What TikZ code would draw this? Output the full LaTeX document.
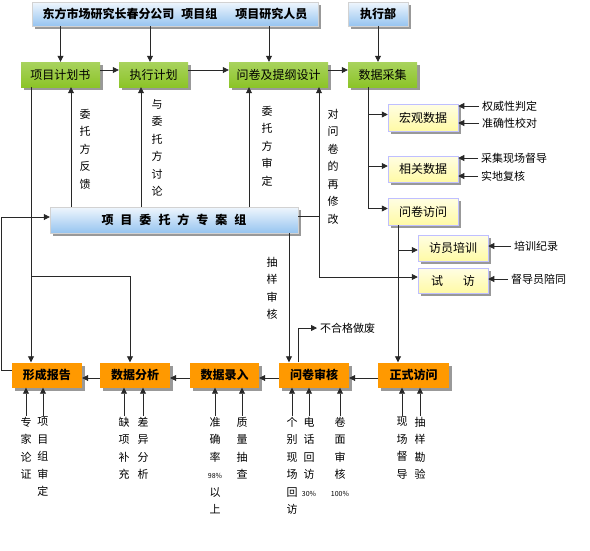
\documentclass[tikz,border=0pt]{standalone}
\usepackage{fontspec}
\setmainfont{Noto Sans CJK SC}
\usetikzlibrary{arrows.meta,shadows}
\definecolor{topblue}{RGB}{150,196,240}
\definecolor{boxgreen}{RGB}{140,196,40}
\definecolor{paleyellow}{RGB}{255,250,165}
\definecolor{boxorange}{RGB}{255,153,0}
\definecolor{linegray}{RGB}{40,40,40}
\begin{document}
\begin{tikzpicture}[x=1pt,y=-1pt,
  arr/.style={line width=0.8pt,draw=linegray,-{Triangle[length=6pt,width=6pt]}},
  ln/.style={line width=0.8pt,draw=linegray},
  basebox/.style={inner sep=0pt,font=\fontsize{12}{14}\selectfont,
    drop shadow={shadow xshift=3pt,shadow yshift=-3pt,fill=black!40,opacity=1}},
  bluebox/.style={basebox,top color=white!85!topblue,bottom color=topblue,
    draw=gray!35,line width=0.4pt,font=\fontsize{12}{14}\selectfont\bfseries},
  greenbox/.style={basebox,top color=boxgreen!75,middle color=white,bottom color=boxgreen},
  yellowbox/.style={basebox,top color=white!70!paleyellow,bottom color=paleyellow,
    draw=blue!25,line width=0.5pt},
  orangebox/.style={basebox,fill=boxorange,font=\fontsize{12}{14}\selectfont\bfseries},
  note/.style={inner sep=3pt,font=\fontsize{11}{13}\selectfont},
  vlabel/.style={inner sep=1pt,align=center,font=\fontsize{11}{17.5}\selectfont},
  pct/.style={}]
  \useasboundingbox (0,0) rectangle (590,550);

  % top row
  \node[bluebox,minimum width=286pt,minimum height=24pt] (top) at (175,14)
    {东方市场研究长春分公司\hspace{7pt}项目组\hspace{18pt}项目研究人员};
  \node[bluebox,minimum width=60pt,minimum height=24pt] (exe) at (378,14) {执行部};

  % green row
  \node[greenbox,minimum width=79pt,minimum height=25pt] (plan) at (60.5,74.5) {项目计划书};
  \node[greenbox,minimum width=69pt,minimum height=25pt] (exec) at (153.5,74.5) {执行计划};
  \node[greenbox,minimum width=99pt,minimum height=25pt] (design) at (278.5,74.5) {问卷及提纲设计};
  \node[greenbox,minimum width=69pt,minimum height=25pt] (collect) at (382.5,74.5) {数据采集};

  % client group
  \node[bluebox,minimum width=248pt,minimum height=26pt] (client) at (174,220)
    {项\hspace{7pt}目\hspace{7pt}委\hspace{7pt}托\hspace{7pt}方\hspace{7pt}专\hspace{7pt}案\hspace{7pt}组};

  % data collection
  \node[yellowbox,minimum width=70pt,minimum height=27pt] (macro) at (423,117.5) {宏观数据};
  \node[yellowbox,minimum width=70pt,minimum height=26pt] (related) at (423,169) {相关数据};
  \node[yellowbox,minimum width=70pt,minimum height=27pt] (qvisit) at (423,211.5) {问卷访问};
  \node[yellowbox,minimum width=70pt,minimum height=26pt] (train) at (453,248) {访员培训};
  \node[yellowbox,minimum width=70pt,minimum height=25pt] (trial) at (453,280.5) {试\hspace{20pt}访};

  % bottom row
  \node[orangebox,minimum width=70pt,minimum height=25pt] (report) at (47,375) {形成报告};
  \node[orangebox,minimum width=70pt,minimum height=25pt] (analysis) at (135,375) {数据分析};
  \node[orangebox,minimum width=69pt,minimum height=25pt] (entry) at (224.5,375) {数据录入};
  \node[orangebox,minimum width=70pt,minimum height=25pt] (review) at (314,375) {问卷审核};
  \node[orangebox,minimum width=71pt,minimum height=25pt] (formal) at (413.5,375) {正式访问};

  % top to green
  \draw[arr] (top.south -| plan.north) -- (plan.north);
  \draw[arr] ([xshift=-3.5pt]exec.north |- top.south) -- ([xshift=-3.5pt]exec.north);
  \draw[arr] ([xshift=-9.5pt]design.north |- top.south) -- ([xshift=-9.5pt]design.north);
  \draw[arr] (exe.south) -- (exe.south |- collect.north);
  \foreach \a/\b in {plan/exec,exec/design,design/collect}
    \draw[arr] ([yshift=4.5pt]\a.east) -- ([yshift=4.5pt]\a.east -| \b.west);

  % client feedback
  \foreach \b/\s in {plan/10.5pt,exec/-12.5pt,design/-29.5pt}
    \draw[arr] ([xshift=\s]\b.south |- client.north) -- ([xshift=\s]\b.south);
  \node[vlabel,anchor=north] (fb) at (85,108) {委\\托\\方\\反\\馈};
  \node[vlabel,anchor=north] (disc) at (157,98) {与\\委\\托\\方\\讨\\论};
  \node[vlabel,anchor=north] (appr) at (267,105) {委\\托\\方\\审\\定};
  \node[vlabel,anchor=north] (rev) at (333,108) {对\\问\\卷\\的\\再\\修\\改};

  % revision line
  \coordinate (rv) at (319,277);
  \draw[ln] ([yshift=4pt]client.east) -- ([yshift=4pt]client.east -| rv);
  \draw[arr] (rv) -- (rv |- design.south);
  \draw[arr] (rv) -- (rv -| trial.west);

  % collection branches
  \coordinate (spine) at (368,87);
  \draw[ln] (collect.south -| spine) -- ([yshift=3pt]qvisit.west -| spine);
  \foreach \b in {macro,related,qvisit}
    \draw[arr] ([yshift=3pt]\b.west -| spine) -- ([yshift=3pt]\b.west);
  \coordinate (qline) at (398,225);
  \draw[arr] (qvisit.south -| qline) -- (qline |- formal.north);
  \draw[arr] ([yshift=-2pt]train.west -| qline) -- ([yshift=-2pt]train.west);

  % side notes
  \node[note,anchor=west] (a1) at (479,106) {权威性判定};
  \node[note,anchor=west] (a2) at (479,123) {准确性校对};
  \node[note,anchor=west] (a3) at (478,158) {采集现场督导};
  \node[note,anchor=west] (a4) at (478,176) {实地复核};
  \node[note,anchor=west] (a5) at (511,246) {培训纪录};
  \node[note,anchor=west] (a6) at (508,279) {督导员陪同};
  \foreach \n/\b in {a1/macro,a2/macro,a3/related,a4/related,a5/train,a6/trial}
    \draw[arr] (\n.west) -- (\n.west -| \b.east);

  % to bottom row
  \draw[arr] ([xshift=-29.5pt]plan.south) -- ([xshift=-29.5pt]plan.south |- report.north);
  \coordinate (split) at (31,276);
  \draw[arr] (split) -| ([xshift=-5pt]analysis.north);
  \draw[arr] ([xshift=115pt]client.south) -- ([xshift=115pt]client.south |- review.north);
  \node[vlabel,anchor=north] (samp) at (272,256) {抽\\样\\审\\核};
  \draw[arr] ([yshift=4.5pt]report.west) -- ++(-10,0) |- ([yshift=3pt]client.west);
  \node[note,anchor=west] (reject) at (317,328) {不合格做废};
  \draw[arr] ([xshift=-16pt]review.north) |- (reject.west);
  \foreach \a/\b in {formal/review,review/entry,entry/analysis,analysis/report}
    \draw[arr] ([yshift=-3pt]\a.west) -- ([yshift=-3pt]\a.west -| \b.east);

  % bottom notes
  \node[vlabel,anchor=north] (b1) at (26,416) {专\\家\\论\\证};
  \node[vlabel,anchor=north] (b2) at (43,416) {项\\目\\组\\审\\定};
  \node[vlabel,anchor=north] (b3) at (124,416) {缺\\项\\补\\充};
  \node[vlabel,anchor=north] (b4) at (143,416) {差\\异\\分\\析};
  \node[vlabel,anchor=north] (b5) at (215,416) {准\\确\\率\\{\fontsize{7}{8}\selectfont 98\%}\\以\\上};
  \node[vlabel,anchor=north] (b6) at (242,416) {质\\量\\抽\\查};
  \node[vlabel,anchor=north] (b7) at (292,416) {个\\别\\现\\场\\回\\访};
  \node[vlabel,anchor=north] (b8) at (309,416) {电\\话\\回\\访\\{\fontsize{7}{8}\selectfont 30\%}};
  \node[vlabel,anchor=north] (b9) at (340,416) {卷\\面\\审\\核\\{\fontsize{7}{8}\selectfont 100\%}};
  \node[vlabel,anchor=north] (b10) at (402,416) {现\\场\\督\\导};
  \node[vlabel,anchor=north] (b11) at (420,416) {抽\\样\\勘\\验};
  \foreach \n/\b in {b1/report,b2/report,b3/analysis,b4/analysis,b5/entry,b6/entry,
      b7/review,b8/review,b9/review,b10/formal,b11/formal}
    \draw[arr] (\n.north) -- (\n.north |- \b.south);
\end{tikzpicture}
\end{document}
